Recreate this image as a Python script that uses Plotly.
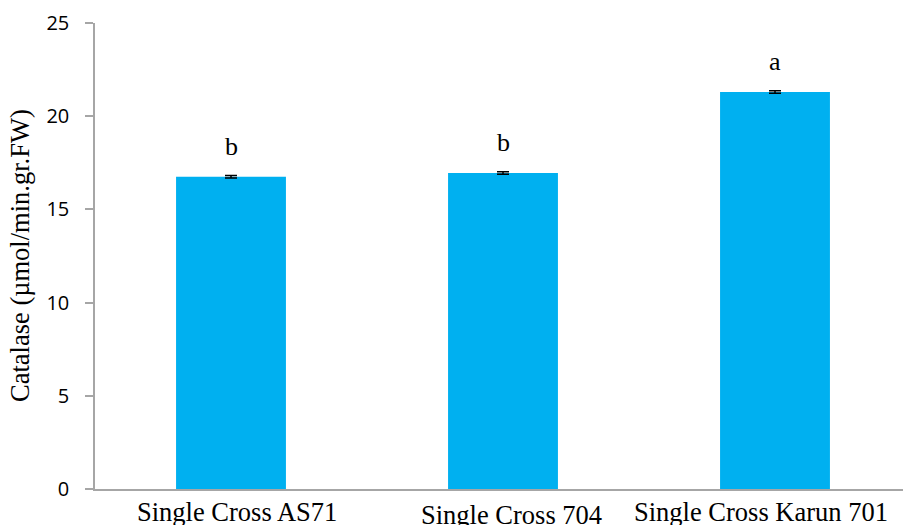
import plotly.graph_objects as go

categories = ["Single Cross AS71", "Single Cross 704", "Single Cross Karun 701"]
values = [16.75, 16.95, 21.3]
errors = [0.07, 0.07, 0.07]
letters = ["b", "b", "a"]
y_ticks = [0, 5, 10, 15, 20, 25]

fig = go.Figure()
fig.add_trace(go.Bar(
    x=list(range(len(categories))), y=values, width=0.404,
    marker=dict(color="#00B0F0", line=dict(width=0)),
    error_y=dict(type="data", array=errors, visible=True, color="black", thickness=1.5, width=6),
    showlegend=False,
))

annotations = []
for i, (v, L) in enumerate(zip(values, letters)):
    annotations.append(dict(x=i, y=v, xref="x", yref="y", text=L, showarrow=False,
                            yanchor="bottom", yshift=14,
                            font=dict(family="Liberation Serif", size=26, color="black")))
label_shift = [(6, 0), (8, -3), (-14, 0)]
for i, c in enumerate(categories):
    dx, dy = label_shift[i]
    annotations.append(dict(x=i, y=0, xref="x", yref="paper", text=c, showarrow=False,
                            yanchor="top", yshift=-6 + dy, xshift=dx,
                            font=dict(family="Liberation Serif", size=26.5, color="black")))
annotations.append(dict(x=(20 - 95) / 808, y=0.5, xref="paper", yref="paper",
                        text="Catalase (µmol/min.gr.FW)", showarrow=False, textangle=-90,
                        xanchor="center", yanchor="middle",
                        font=dict(family="Liberation Serif", size=26.5, color="black")))

fig.update_layout(
    width=903, height=525,
    margin=dict(l=95, r=0, t=23, b=36),
    paper_bgcolor="white", plot_bgcolor="white",
    annotations=annotations,
)
fig.update_xaxes(range=[-0.5, -0.5 + 808 / 272], showticklabels=False, ticks="",
                 showline=True, linecolor="#A6A6A6", linewidth=1.5, showgrid=False,
                 zeroline=False, fixedrange=True)
fig.update_yaxes(range=[0, 25], tickvals=y_ticks, ticks="outside", ticklen=8,
                 tickcolor="#A6A6A6", tickwidth=1.5,
                 showline=True, linecolor="#A6A6A6", linewidth=1.5, showgrid=False,
                 zeroline=False, ticklabelstandoff=12,
                 tickfont=dict(family="Open Sans", size=20, color="black"))

fig.write_html("out.html", config={"displayModeBar": False},
               post_script="document.body.style.margin='0px';document.body.style.overflow='hidden';")
